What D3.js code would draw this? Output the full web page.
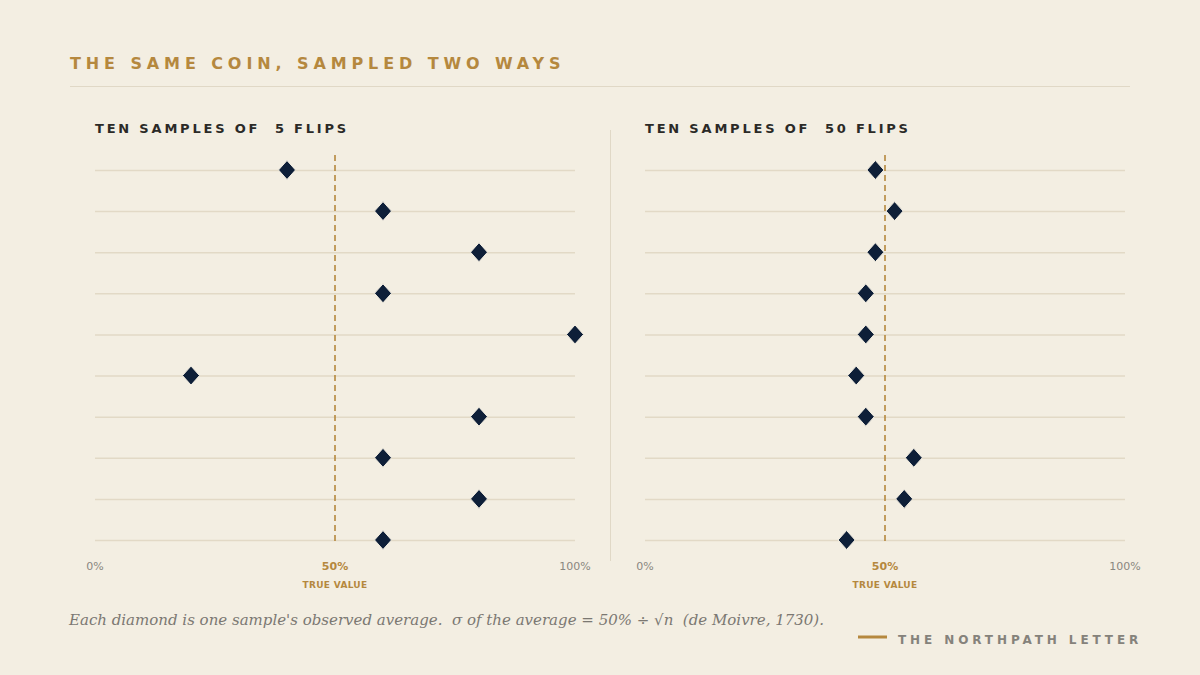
<!DOCTYPE html>
<html>
<head>
<meta charset="utf-8">
<script src="https://cdn.jsdelivr.net/npm/d3@7"></script>
<style>
  body { margin: 0; background: #f3eee2; }
  svg { display: block; }
</style>
</head>
<body>
<div id="chart"></div>
<script>
// sample averages (share of heads)
var samples5 = [0.40, 0.60, 0.80, 0.60, 1.00, 0.20, 0.80, 0.60, 0.80, 0.60];
var samples50 = [0.48, 0.52, 0.48, 0.46, 0.46, 0.44, 0.46, 0.56, 0.54, 0.42];
var panelTitles = ["TEN SAMPLES OF  5 FLIPS", "TEN SAMPLES OF  50 FLIPS"];
var tickValues = [0, 0.5, 1];
var trueValue = 0.5;

var width = 1200,
    height = 675;

var gold = "#b5883e",
    navy = "#0e1f38",
    grid = "#e2d9c6";

var svg = d3.select("#chart").append("svg")
    .attr("width", width)
    .attr("height", height);

svg.append("rect")
  .attr("width", width)
  .attr("height", height)
  .attr("fill", "#f3eee2");

// title + rule
svg.append("text")
  .attr("x", 70)
  .attr("y", 69)
  .attr("fill", gold)
  .attr("font-family", "DejaVu Sans")
  .attr("font-weight", "bold")
  .attr("font-size", 16)
  .attr("letter-spacing", 4.9)
  .text("THE SAME COIN, SAMPLED TWO WAYS");

svg.append("line")
  .attr("x1", 70).attr("x2", 1130)
  .attr("y1", 86.5).attr("y2", 86.5)
  .attr("stroke", "#e0d8c6");

// divider between panels
svg.append("line")
  .attr("x1", 610.5).attr("x2", 610.5)
  .attr("y1", 130).attr("y2", 561)
  .attr("stroke", "#e0d8c6");

var rows = d3.range(10);
var y = d3.scalePoint()
    .domain(rows)
    .range([170, 540]);

function drawPanel(left, title, values) {
  var x = d3.scaleLinear()
      .domain([0, 1])
      .range([left, left + 480]);

  var g = svg.append("g");

  g.append("text")
    .attr("x", left)
    .attr("y", 133)
    .attr("fill", "#2b2a27")
    .attr("font-family", "DejaVu Sans")
    .attr("font-weight", "bold")
    .attr("font-size", 13)
    .attr("letter-spacing", 2.8)
    .style("white-space", "pre")
    .text(title);

  // grid rows
  g.selectAll(".row")
    .data(rows)
    .enter().append("line")
    .attr("x1", x(0)).attr("x2", x(1))
    .attr("y1", function(d) { return y(d) + 0.5; })
    .attr("y2", function(d) { return y(d) + 0.5; })
    .attr("stroke", grid)
    .attr("stroke-width", 1.5);

  // true value
  g.append("line")
    .attr("x1", x(trueValue)).attr("x2", x(trueValue))
    .attr("y1", 155).attr("y2", 545)
    .attr("stroke", gold)
    .attr("stroke-width", 1.6)
    .attr("stroke-dasharray", "6,4");

  // diamonds
  g.selectAll(".pt")
    .data(values)
    .enter().append("path")
    .attr("transform", function(d, i) { return "translate(" + x(d) + "," + y(i) + ")"; })
    .attr("d", "M0,-9.5L8.5,0L0,9.5L-8.5,0Z")
    .attr("fill", navy)
    .attr("stroke", "#f3eee2")
    .attr("stroke-width", 1);

  // axis labels
  g.selectAll(".tick")
    .data(tickValues)
    .enter().append("text")
    .attr("x", function(d) { return x(d); })
    .attr("y", 570)
    .attr("text-anchor", "middle")
    .attr("font-family", "DejaVu Sans")
    .attr("font-size", 11)
    .attr("font-weight", function(d) { return d === trueValue ? "bold" : "normal"; })
    .attr("fill", function(d) { return d === trueValue ? gold : "#8a8780"; })
    .text(d3.format(".0%"));

  g.append("text")
    .attr("x", x(trueValue))
    .attr("y", 588)
    .attr("text-anchor", "middle")
    .attr("font-family", "DejaVu Sans")
    .attr("font-weight", "bold")
    .attr("font-size", 9)
    .attr("letter-spacing", 0.3)
    .attr("fill", gold)
    .text("TRUE VALUE");
}

drawPanel(95, panelTitles[0], samples5);
drawPanel(645, panelTitles[1], samples50);

// footnote
svg.append("text")
  .attr("x", 69)
  .attr("y", 625)
  .attr("font-family", "DejaVu Serif")
  .attr("font-style", "italic")
  .attr("font-size", 15)
  .attr("fill", "#7b7872")
  .style("white-space", "pre")
  .text("Each diamond is one sample's observed average.  \u03c3 of the average = 50% \u00f7 \u221an  (de Moivre, 1730).");

// brand
svg.append("line")
  .attr("x1", 858).attr("x2", 887)
  .attr("y1", 637).attr("y2", 637)
  .attr("stroke", gold)
  .attr("stroke-width", 3);

svg.append("text")
  .attr("x", 898)
  .attr("y", 644)
  .attr("font-family", "DejaVu Sans")
  .attr("font-weight", "bold")
  .attr("font-size", 12)
  .attr("letter-spacing", 3.9)
  .attr("fill", "#85827b")
  .text("THE NORTHPATH LETTER");
</script>
</body>
</html>
